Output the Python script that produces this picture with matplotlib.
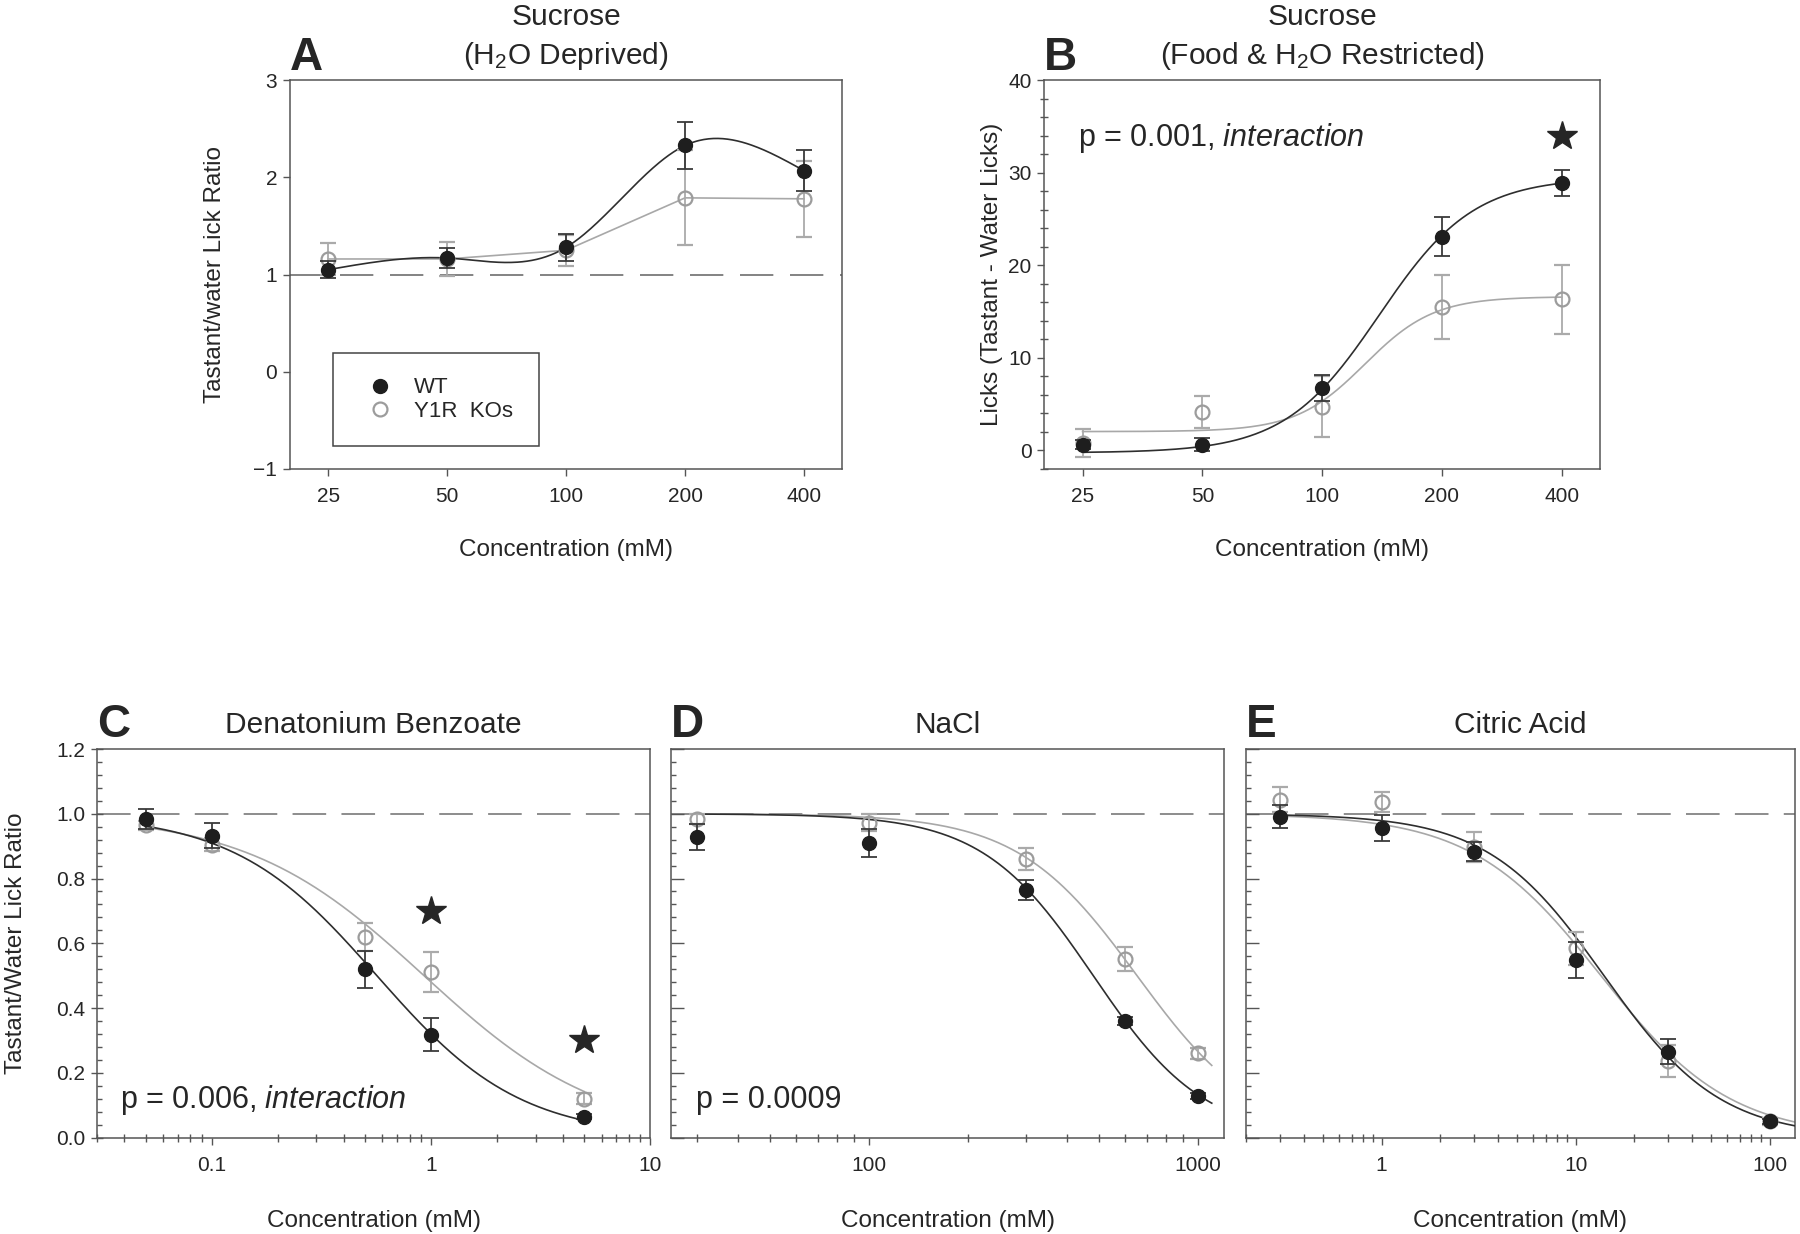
"""Lick-ratio / lick-count concentration curves for WT vs Y1R KO mice (panels A-E).

Writes out.png.  Usage: python plot.py
"""

import matplotlib

matplotlib.use("Agg")
import matplotlib.pyplot as plt
import numpy as np
from matplotlib.lines import Line2D
from matplotlib.patches import Rectangle
from matplotlib.ticker import FixedLocator, LogLocator, MultipleLocator, NullFormatter, NullLocator

plt.rcParams["font.family"] = ["Liberation Sans", "DejaVu Sans"]
plt.rcParams["mathtext.fontset"] = "custom"
plt.rcParams["mathtext.rm"] = "Liberation Sans"
plt.rcParams["mathtext.it"] = "Liberation Sans:italic"

INK = "#262626"
AXC = "#555555"
WT_C = "#1e1e1e"
WT_LINE = "#2e2e2e"
KO_C = "#9c9c9c"
KO_LINE = "#a8a8a8"
DASH = "#6e6e6e"

# ---- A: sucrose, H2O deprived (lick ratio)
A_conc = [25, 50, 100, 200, 400]
A_wt = [1.05, 1.17, 1.28, 2.33, 2.07]
A_wt_err = [0.09, 0.10, 0.14, 0.24, 0.21]
A_ko = [1.16, 1.16, 1.25, 1.79, 1.78]
A_ko_err = [0.16, 0.18, 0.16, 0.49, 0.39]

# ---- B: sucrose, food & H2O restricted (tastant - water licks)
B_conc = [25, 50, 100, 200, 400]
B_wt = [0.6, 0.6, 6.7, 23.1, 28.9]
B_wt_err = [0.5, 0.7, 1.4, 2.15, 1.4]
B_ko = [0.8, 4.1, 4.7, 15.5, 16.3]
B_ko_err = [1.5, 1.75, 3.3, 3.5, 3.7]
B_wt_fit = (-0.3, 29.5, 139.0, 3.65)    # y(low x), y(high x), x50, hill
B_ko_fit = (2.0, 16.6, 128.0, 5.0)
B_star_x = [400]
B_star_y = [34.0]

# ---- C: denatonium benzoate
C_conc = [0.05, 0.1, 0.5, 1, 5]
C_wt = [0.984, 0.932, 0.52, 0.318, 0.064]
C_wt_err = [0.03, 0.038, 0.057, 0.05, 0.008]
C_ko = [0.964, 0.905, 0.619, 0.512, 0.12]
C_ko_err = [0.015, 0.02, 0.043, 0.062, 0.018]
C_wt_fit = (1.0, 0.0, 0.567, 1.33)
C_ko_fit = (1.0, 0.0, 0.93, 1.07)
C_star_x = [1, 5]
C_star_y = [0.70, 0.30]

# ---- D: NaCl
D_conc = [30, 100, 300, 600, 1000]
D_wt = [0.927, 0.909, 0.764, 0.361, 0.129]
D_wt_err = [0.04, 0.043, 0.03, 0.012, 0.01]
D_ko = [0.983, 0.973, 0.86, 0.55, 0.26]
D_ko_err = [0.015, 0.026, 0.033, 0.037, 0.018]
D_wt_fit = (1.0, 0.0, 480.0, 2.57)
D_ko_fit = (1.0, 0.0, 652.0, 2.39)

# ---- E: citric acid
E_conc = [0.3, 1, 3, 10, 30, 100]
E_wt = [0.991, 0.957, 0.883, 0.549, 0.265, 0.05]
E_wt_err = [0.035, 0.04, 0.03, 0.055, 0.038, 0.008]
E_ko = [1.044, 1.037, 0.898, 0.584, 0.236, 0.05]
E_ko_err = [0.04, 0.031, 0.047, 0.05, 0.05, 0.01]
E_wt_fit = (1.0, 0.0, 14.0, 1.45)
E_ko_fit = (1.0, 0.0, 13.5, 1.3)


def logistic(x, p):
    y0, y1, x50, h = p
    return y0 + (y1 - y0) / (1.0 + (x50 / x) ** h)


def natural_spline(x, y, xs):
    x = np.asarray(x, float)
    y = np.asarray(y, float)
    n = len(x)
    h = np.diff(x)
    A = np.zeros((n, n))
    r = np.zeros(n)
    A[0, 0] = A[-1, -1] = 1.0
    for i in range(1, n - 1):
        A[i, i - 1], A[i, i], A[i, i + 1] = h[i - 1], 2 * (h[i - 1] + h[i]), h[i]
        r[i] = 3 * ((y[i + 1] - y[i]) / h[i] - (y[i] - y[i - 1]) / h[i - 1])
    c = np.linalg.solve(A, r)
    b = (y[1:] - y[:-1]) / h - h * (2 * c[:-1] + c[1:]) / 3
    d = (c[1:] - c[:-1]) / (3 * h)
    idx = np.clip(np.searchsorted(x, xs) - 1, 0, n - 2)
    dx = xs - x[idx]
    return y[idx] + b[idx] * dx + c[idx] * dx ** 2 + d[idx] * dx ** 3


def style(ax):
    for sp in ax.spines.values():
        sp.set_color(AXC)
        sp.set_linewidth(1.1)
    ax.tick_params(which="both", colors=AXC, labelcolor=INK, labelsize=15, width=1.0)
    ax.tick_params(axis="x", which="major", length=5, pad=8, direction="out")
    ax.tick_params(axis="y", which="major", length=5, pad=4, direction="out")
    ax.tick_params(which="minor", length=3)


def points(ax, x, wt, wt_err, ko, ko_err):
    ax.errorbar(x, ko, yerr=ko_err, fmt="o", ms=10, mfc="none", mec=KO_C, mew=1.6,
                ecolor="#aaaaaa", elinewidth=1.3, capsize=5.5, capthick=1.3, zorder=4)
    ax.errorbar(x, wt, yerr=wt_err, fmt="o", ms=10, mfc=WT_C, mec=WT_C, ecolor="#3a3a3a",
                elinewidth=1.3, capsize=5.5, capthick=1.3, zorder=5)


def fit_lines(ax, lo, hi, wt_fit, ko_fit):
    xs = np.geomspace(lo, hi, 300)
    ax.plot(xs, logistic(xs, ko_fit), color=KO_LINE, lw=1.2, zorder=2)
    ax.plot(xs, logistic(xs, wt_fit), color=WT_LINE, lw=1.2, zorder=3)


def sucrose_axis(ax):
    ax.set_xscale("log")
    ax.set_xlim(20, 500)
    ax.xaxis.set_major_locator(FixedLocator(A_conc))
    ax.set_xticklabels([str(c) for c in A_conc])
    ax.xaxis.set_minor_locator(NullLocator())
    ax.set_xlabel("Concentration (mM)", fontsize=17.5, color=INK, va="center")
    ax.xaxis.set_label_coords(0.5, -0.21)


def bitter_axis(ax, lim, majors, labels):
    ax.set_xscale("log")
    ax.set_xlim(*lim)
    ax.xaxis.set_major_locator(FixedLocator(majors))
    ax.set_xticklabels(labels)
    ax.xaxis.set_minor_locator(LogLocator(base=10, subs=np.arange(2, 10)))
    ax.xaxis.set_minor_formatter(NullFormatter())
    ax.set_ylim(0, 1.2)
    ax.yaxis.set_major_locator(MultipleLocator(0.2))
    ax.yaxis.set_minor_locator(MultipleLocator(0.04))
    ax.tick_params(axis="x", which="minor", direction="inout", length=6)
    ax.tick_params(axis="y", which="minor", direction="in", length=3.5)
    ax.tick_params(axis="y", which="major", direction="inout", length=9)
    ax.axhline(1.0, color=DASH, lw=1.1, ls=(0, (22, 10)), zorder=1)
    ax.set_xlabel("Concentration (mM)", fontsize=17.5, color=INK, va="center")
    ax.xaxis.set_label_coords(0.5, -0.2144)


fig = plt.figure(figsize=(18, 12.34), dpi=100)
axA = fig.add_axes([0.1610, 0.6203, 0.3070, 0.3145])
axB = fig.add_axes([0.5800, 0.6203, 0.3091, 0.3145])
axC = fig.add_axes([0.0538, 0.0782, 0.3075, 0.3148])
axD = fig.add_axes([0.3728, 0.0782, 0.3073, 0.3148])
axE = fig.add_axes([0.6922, 0.0782, 0.3050, 0.3148])
for ax in (axA, axB, axC, axD, axE):
    style(ax)

# A
axA.axhline(1.0, color=DASH, lw=1.2, ls=(0, (20, 10)), zorder=1)
xs = np.geomspace(A_conc[0], A_conc[-1], 300)
axA.plot(A_conc, A_ko, color=KO_LINE, lw=1.2, zorder=2)
axA.plot(xs, natural_spline(np.log(A_conc), A_wt, np.log(xs)), color=WT_LINE, lw=1.2, zorder=3)
points(axA, A_conc, A_wt, A_wt_err, A_ko, A_ko_err)
sucrose_axis(axA)
axA.set_ylim(-1, 3)
axA.set_yticks([-1, 0, 1, 2, 3])
axA.set_ylabel("Tastant/water Lick Ratio", fontsize=17.5, color=INK, va="center")
axA.yaxis.set_label_coords(-0.1357, 0.5)
axA.add_patch(Rectangle((0.078, 0.057), 0.3726, 0.241, transform=axA.transAxes,
                        fill=False, ec="#444444", lw=1.1, zorder=6))
handles = [Line2D([], [], ls="none", marker="o", ms=10, mfc=WT_C, mec=WT_C),
           Line2D([], [], ls="none", marker="o", ms=10, mfc="none", mec=KO_C, mew=1.6)]
axA.legend(handles, ["WT", "Y1R  KOs"], loc="center left", bbox_to_anchor=(0.1424, 0.178),
           frameon=False, fontsize=16, handlelength=1.0, handletextpad=1.05,
           borderpad=0, borderaxespad=0, labelspacing=0.1, labelcolor=INK)

# B
fit_lines(axB, 25, 400, B_wt_fit, B_ko_fit)
points(axB, B_conc, B_wt, B_wt_err, B_ko, B_ko_err)
axB.plot(B_star_x, B_star_y, ls="none", marker="*", ms=22, color=INK, zorder=6)
sucrose_axis(axB)
axB.set_ylim(-2, 40)
axB.yaxis.set_major_locator(MultipleLocator(10))
axB.yaxis.set_minor_locator(MultipleLocator(2))
axB.tick_params(axis="y", which="minor", direction="inout", length=6)
axB.set_ylabel("Licks (Tastant - Water Licks)", fontsize=17.5, color=INK, va="center")
axB.yaxis.set_label_coords(-0.0936, 0.5)
axB.text(0.061, 0.830, r"p = 0.001, $\mathit{interaction}$", transform=axB.transAxes,
         fontsize=22, color=INK, va="baseline")

# C
bitter_axis(axC, (0.03, 10), [0.1, 1, 10], ["0.1", "1", "10"])
fit_lines(axC, 0.05, 5, C_wt_fit, C_ko_fit)
points(axC, C_conc, C_wt, C_wt_err, C_ko, C_ko_err)
axC.plot(C_star_x, C_star_y, ls="none", marker="*", ms=22, color=INK, zorder=6)
axC.set_yticklabels([f"{v:.1f}" for v in axC.get_yticks()])
axC.set_ylabel("Tastant/Water Lick Ratio", fontsize=17.5, color=INK, va="center")
axC.yaxis.set_label_coords(-0.146, 0.5)
axC.text(0.042, 0.076, r"p = 0.006, $\mathit{interaction}$", transform=axC.transAxes,
         fontsize=22, color=INK, va="baseline")

# D
bitter_axis(axD, (25, 1200), [100, 1000], ["100", "1000"])
fit_lines(axD, 30, 1100, D_wt_fit, D_ko_fit)
points(axD, D_conc, D_wt, D_wt_err, D_ko, D_ko_err)
axD.tick_params(axis="y", which="both", direction="in", labelleft=False)
axD.text(0.046, 0.076, "p = 0.0009", transform=axD.transAxes,
         fontsize=22, color=INK, va="baseline")

# E
bitter_axis(axE, (0.2, 135), [1, 10, 100], ["1", "10", "100"])
fit_lines(axE, 0.3, 135, E_wt_fit, E_ko_fit)
points(axE, E_conc, E_wt, E_wt_err, E_ko, E_ko_err)
axE.tick_params(axis="y", which="both", direction="in", labelleft=False)

# titles and panel letters
for ax in (axA, axB):
    ax.text(0.5, 1.1427, "Sucrose", transform=ax.transAxes, ha="center", va="baseline",
            fontsize=21.5, color=INK)
axA.text(0.5, 1.0433, r"(H$_2$O Deprived)", transform=axA.transAxes, ha="center",
         va="baseline", fontsize=21.5, color=INK)
axB.text(0.5, 1.0433, r"(Food & H$_2$O Restricted)", transform=axB.transAxes, ha="center",
         va="baseline", fontsize=21.5, color=INK)
for ax, title in ((axC, "Denatonium Benzoate"), (axD, "NaCl"), (axE, "Citric Acid")):
    ax.text(0.5, 1.040, title, transform=ax.transAxes, ha="center", va="baseline",
            fontsize=21.5, color=INK)
for ax, letter, y in ((axA, "A", 1.0278), (axB, "B", 1.0278), (axC, "C", 1.0314),
                      (axD, "D", 1.0314), (axE, "E", 1.0314)):
    ax.text(0.0, y, letter, transform=ax.transAxes, ha="left", va="baseline",
            fontsize=33, fontweight="bold", color=INK)

fig.savefig("out.png", dpi=100, facecolor="white")
plt.close(fig)
